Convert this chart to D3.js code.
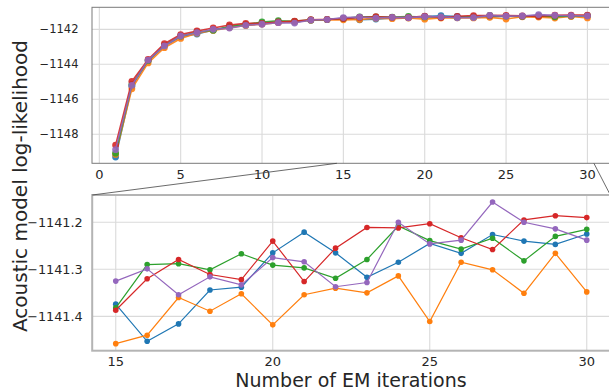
<!DOCTYPE html>
<html>
<head>
<meta charset="utf-8">
<script src="https://cdn.jsdelivr.net/npm/d3@7"></script>
<style>
  body { margin: 0; background: #fff; }
</style>
</head>
<body>
<div id="chart"></div>
<script>
// EM iterations
const iterations = d3.range(1, 31)
const seriesNames = ['run1', 'run2', 'run3', 'run4', 'run5']
const colors = ['#1f77b4', '#ff7f0e', '#2ca02c', '#d62728', '#9467bd']

// log-likelihood per run, iterations 1..30
const run1 = [-1149.30, -1145.25, -1143.80, -1142.95, -1142.42, -1142.27, -1142.04, -1141.88, -1141.76, -1141.68,
  -1141.60, -1141.58, -1141.48, -1141.44,
  -1141.374, -1141.453, -1141.416, -1141.344, -1141.338, -1141.265, -1141.221, -1141.265,
  -1141.317, -1141.285, -1141.245, -1141.266, -1141.226, -1141.240, -1141.247, -1141.225]
const run2 = [-1149.15, -1145.40, -1143.92, -1143.05, -1142.52, -1142.22, -1142.06, -1141.90, -1141.78, -1141.70,
  -1141.62, -1141.56, -1141.48, -1141.45,
  -1141.458, -1141.440, -1141.360, -1141.389, -1141.352, -1141.418, -1141.354, -1141.340,
  -1141.350, -1141.314, -1141.411, -1141.285, -1141.301, -1141.351, -1141.266, -1141.348]
const run3 = [-1149.08, -1145.15, -1143.78, -1142.90, -1142.38, -1142.15, -1142.05, -1141.82, -1141.72, -1141.58,
  -1141.51, -1141.54, -1141.46, -1141.44,
  -1141.382, -1141.290, -1141.288, -1141.301, -1141.267, -1141.291, -1141.297, -1141.319,
  -1141.279, -1141.208, -1141.239, -1141.257, -1141.234, -1141.282, -1141.230, -1141.215]
const run4 = [-1148.62, -1144.98, -1143.72, -1142.82, -1142.30, -1142.09, -1141.92, -1141.75, -1141.66, -1141.66,
  -1141.58, -1141.53, -1141.45, -1141.43,
  -1141.387, -1141.320, -1141.279, -1141.311, -1141.322, -1141.240, -1141.326, -1141.255,
  -1141.211, -1141.212, -1141.203, -1141.233, -1141.258, -1141.195, -1141.186, -1141.190]
const run5 = [-1148.88, -1145.20, -1143.76, -1142.95, -1142.38, -1142.19, -1142.00, -1141.93, -1141.77, -1141.71,
  -1141.62, -1141.64, -1141.47, -1141.44,
  -1141.325, -1141.299, -1141.354, -1141.316, -1141.333, -1141.275, -1141.284, -1141.337,
  -1141.328, -1141.200, -1141.246, -1141.238, -1141.157, -1141.200, -1141.214, -1141.238]
const runs = [run1, run2, run3, run4, run5]

const topXTicks = [0, 5, 10, 15, 20, 25, 30]
const topYTicks = [-1148, -1146, -1144, -1142]
const zoomXTicks = [15, 20, 25, 30]
const zoomYTicks = [-1141.4, -1141.3, -1141.2]
const zoomFrom = 15

const width = 609, height = 390
const font = 'DejaVu Sans'
const svg = d3.select('#chart').append('svg').attr('width', width).attr('height', height)
  .attr('font-family', font)

const fmt = d => (d < 0 ? '\u2212' : '') + Math.abs(d)

// top panel: all iterations
const xTop = d3.scaleLinear().domain([-0.45, 31.45]).range([92, 611])
const yTop = d3.scaleLinear().domain([-1149.66, -1140.74]).range([163.3, 7.3])
// bottom panel: zoom on the last iterations
const xZoom = d3.scaleLinear().domain([14.25, 30.75]).range([92.2, 610.3])
const yZoom = d3.scaleLinear().domain([-1141.473, -1141.142]).range([350.7, 195])

function panel(x, y, xTicks, yTicks, opt) {
  const g = svg.append('g')
  const [x0, x1] = x.range(), [y1, y0] = y.range()

  g.append('g').attr('stroke', '#dadada').attr('stroke-width', 1.1)
    .selectAll('line').data(xTicks).join('line')
      .attr('x1', d => x(d)).attr('x2', d => x(d)).attr('y1', y0).attr('y2', y1)
  g.append('g').attr('stroke', '#dadada').attr('stroke-width', 1.1)
    .selectAll('line').data(yTicks).join('line')
      .attr('x1', x0).attr('x2', x1).attr('y1', d => y(d)).attr('y2', d => y(d))

  const line = d3.line().x(d => x(d[0])).y(d => y(d[1]))
  runs.forEach((run, i) => {
    const pts = iterations.map((it, j) => [it, run[j]]).filter(d => d[0] >= opt.from)
    const s = g.append('g').attr('opacity', opt.alpha)
    s.append('path').datum(pts)
      .attr('fill', 'none').attr('stroke', colors[i]).attr('stroke-width', opt.lw)
      .attr('d', line)
    s.selectAll('circle').data(pts).join('circle')
      .attr('cx', d => x(d[0])).attr('cy', d => y(d[1])).attr('r', opt.r)
      .attr('fill', colors[i])
  })

  g.append('rect').attr('x', x0).attr('y', y0).attr('width', x1 - x0).attr('height', y1 - y0)
    .attr('fill', 'none').attr('stroke', opt.spine).attr('stroke-width', opt.spineW)

  g.selectAll('text.xt').data(xTicks).join('text').attr('class', 'xt')
    .attr('x', d => x(d)).attr('y', y1 + opt.xPad).attr('text-anchor', 'middle')
    .attr('fill', '#262626').attr('font-size', opt.xFont).text(d => d)
  g.selectAll('text.yt').data(yTicks).join('text').attr('class', 'yt')
    .attr('x', x0 - opt.yPad).attr('y', d => y(d)).attr('dy', '0.36em').attr('text-anchor', 'end')
    .attr('fill', '#262626').attr('font-size', opt.yFont).text(fmt)
}

panel(xTop, yTop, topXTicks, topYTicks,
  { from: 1, lw: 1.6, r: 3.4, alpha: 0.9, spine: '#7a7a7a', spineW: 1, xPad: 16, yPad: 13.5, xFont: 13, yFont: 11.5 })
panel(xZoom, yZoom, zoomXTicks, zoomYTicks,
  { from: zoomFrom, lw: 1.2, r: 2.8, alpha: 1, spine: '#b4b4b4', spineW: 2, xPad: 14.8, yPad: 9.5, xFont: 13, yFont: 12.8 })

// connector lines from the top panel to the zoomed panel
svg.append('g').attr('stroke', '#444').attr('stroke-width', 0.8)
  .selectAll('line').data([[14.6, xZoom.range()[0]], [30.4, xZoom.range()[1]]]).join('line')
    .attr('x1', d => xTop(d[0])).attr('y1', yTop.range()[0])
    .attr('x2', d => d[1]).attr('y2', yZoom.range()[1])

svg.append('text').attr('x', 351).attr('y', 386.5).attr('text-anchor', 'middle')
  .attr('fill', '#262626').attr('font-size', 19).text('Number of EM iterations')
svg.append('text').attr('transform', 'translate(27,186) rotate(-90)').attr('text-anchor', 'middle')
  .attr('fill', '#262626').attr('font-size', 20).text('Acoustic model log-likelihood')
</script>
</body>
</html>
